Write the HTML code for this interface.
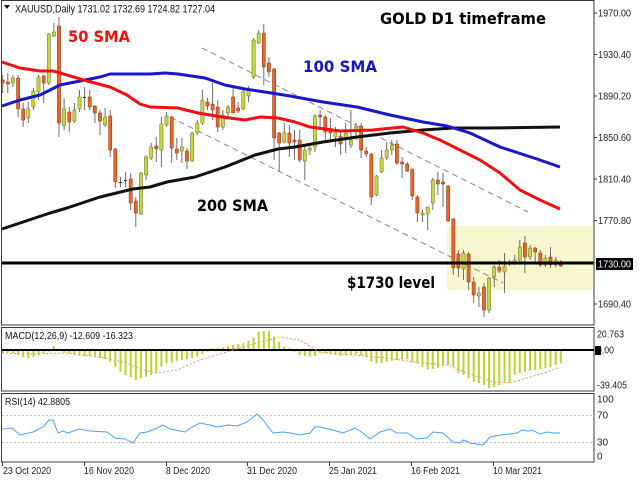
<!DOCTYPE html>
<html><head><meta charset="utf-8"><style>
html,body{margin:0;padding:0;background:#fff}
svg{display:block}
text{font-family:"Liberation Sans",Arial,sans-serif}
.big{font-family:"DejaVu Sans","Liberation Sans",sans-serif;font-weight:bold}
</style></head><body>
<svg width="640" height="480" viewBox="0 0 640 480" xmlns="http://www.w3.org/2000/svg">
<rect width="640" height="480" fill="#fff"/>
<!-- yellow zone -->
<rect x="447" y="226" width="146" height="64" fill="#f8f6cf"/>
<!-- dashed channel -->
<line x1="202" y1="48" x2="528" y2="212" stroke="#8a8a8a" stroke-width="1" stroke-dasharray="6,4"/>
<line x1="170" y1="117" x2="503" y2="283" stroke="#8a8a8a" stroke-width="1" stroke-dasharray="6,4"/>
<!-- wicks -->
<path fill="none" stroke="#6e6e6e" stroke-width="1" d="M2.7 75V93 M7.8 73V93 M12.9 75V87 M18.1 75V117 M23.2 103V127 M28.3 102V123 M33.4 88V110 M38.5 75V100 M43.7 75V103 M48.8 33V85 M53.9 23V37 M59 17V137 M64.1 98V130 M69.3 107V132 M74.4 103V123 M79.5 90V112 M84.6 87V110 M89.7 90V110 M94.9 105V123 M100 110V135 M105.1 108V127 M110.2 110V157 M115.3 148V188 M120.5 177V187 M125.6 172V187 M130.7 173V210 M135.8 197V227 M140.9 172V215 M146.1 155V180 M151.2 143V160 M156.3 137V162 M161.4 117V167 M166.5 112V127 M171.7 116V163 M176.8 138V160 M181.9 138V163 M187 148V169 M192.1 132V162 M197.3 120V135 M202.4 90V125 M207.5 98V110 M212.6 83V120 M217.7 100V132 M222.9 110V130 M228 105V117 M233.1 88V113 M238.2 102V113 M243.3 90V110 M248.5 86V102 M253.6 38V79 M258.7 30V44 M263.8 24V85 M268.9 57V77 M274.1 68V160 M279.2 132V172 M284.3 123V143 M289.4 125V157 M294.5 130V160 M299.7 130V162 M304.8 145V180 M309.9 145V155 M315 114V152 M320.1 110V127 M325.3 115V142 M330.4 118V140 M335.5 127V147 M340.6 130V155 M345.7 123V153 M350.9 110V148 M356 123V140 M361.1 123V158 M366.2 147V157 M371.3 153V205 M376.5 175V196 M381.6 150V173 M386.7 142V160 M391.8 140V155 M396.9 140V165 M402.1 157V178 M407.2 162V172 M412.3 169V200 M417.4 195V222 M422.5 210V222 M427.7 207V230 M432.8 178V210 M437.9 172V195 M443 173V207 M448.1 185V222 M453.3 218V275 M458.4 250V277 M463.5 250V280 M468.6 252V290 M473.7 277V303 M478.9 287V307 M484 283V317 M489.1 277V313 M494.2 265V287 M499.3 260V273 M504.5 253V293 M509.6 260V266 M514.7 255V265 M519.8 240V263 M524.9 236V273 M530.1 245V260 M535.2 247V263 M540.3 250V267 M545.4 255V267 M550.5 247V268 M555.7 257V267 M560.8 260V267"/>
<!-- bull bodies -->
<path fill="#c6d83a" stroke="#6a6a2a" stroke-width="0.5" d="M11.3 78h3.2v5h-3.2z M26.7 109h3.2v9h-3.2z M31.8 91h3.2v16h-3.2z M36.9 77h3.2v15h-3.2z M47.2 34h3.2v49h-3.2z M52.3 32h3.2v4h-3.2z M62.5 109h3.2v17h-3.2z M72.8 110h3.2v11h-3.2z M77.9 97h3.2v12h-3.2z M103.5 117h3.2v8h-3.2z M139.3 173h3.2v41h-3.2z M144.5 157h3.2v18h-3.2z M149.6 147h3.2v11h-3.2z M159.8 124h3.2v26h-3.2z M164.9 116h3.2v9h-3.2z M180.3 147h3.2v4h-3.2z M190.5 133h3.2v28h-3.2z M195.7 123h3.2v10h-3.2z M200.8 100h3.2v23h-3.2z M221.3 115h3.2v12h-3.2z M226.4 107h3.2v6h-3.2z M241.7 92h3.2v17h-3.2z M246.9 88h3.2v8h-3.2z M252 40h3.2v37h-3.2z M257.1 33h3.2v10h-3.2z M282.7 133h3.2v9h-3.2z M303.2 150h3.2v11h-3.2z M308.3 148h3.2v2h-3.2z M313.4 116h3.2v31h-3.2z M333.9 132h3.2v5h-3.2z M344.1 133h3.2v6h-3.2z M349.3 140h3.2v5h-3.2z M354.4 127h3.2v5h-3.2z M374.9 176h3.2v19h-3.2z M380 158h3.2v14h-3.2z M385.1 150h3.2v8h-3.2z M390.2 145h3.2v5h-3.2z M420.9 213h3.2v2h-3.2z M426.1 207h3.2v7h-3.2z M431.2 180h3.2v23h-3.2z M461.9 253h3.2v16h-3.2z M477.3 293h3.2v3h-3.2z M487.5 278h3.2v32h-3.2z M492.6 267h3.2v10h-3.2z M502.9 266h3.2v6h-3.2z M513.1 260h3.2v3h-3.2z M518.2 247h3.2v13h-3.2z M528.5 248h3.2v9h-3.2z M543.8 258h3.2v7h-3.2z M554.1 260h3.2v5h-3.2z"/>
<!-- bear bodies -->
<path fill="#ec6428" stroke="#7a3a1a" stroke-width="0.5" d="M1.1 80h3.2v3h-3.2z M6.2 82h3.2v2h-3.2z M16.5 78h3.2v31h-3.2z M21.6 109h3.2v11h-3.2z M42.1 76h3.2v7h-3.2z M57.4 26h3.2v97h-3.2z M67.7 112h3.2v10h-3.2z M88.1 97h3.2v10h-3.2z M93.3 106h3.2v7h-3.2z M98.4 113h3.2v8h-3.2z M108.6 116h3.2v34h-3.2z M113.7 149h3.2v33h-3.2z M129.1 179h3.2v24h-3.2z M134.2 201h3.2v12h-3.2z M154.7 146h3.2v3h-3.2z M170.1 117h3.2v31h-3.2z M175.2 149h3.2v4h-3.2z M185.4 151h3.2v10h-3.2z M205.9 102h3.2v4h-3.2z M211 104h3.2v6h-3.2z M216.1 107h3.2v20h-3.2z M231.5 97h3.2v16h-3.2z M236.6 108h3.2v3h-3.2z M262.2 33h3.2v34h-3.2z M267.3 63h3.2v9h-3.2z M272.5 69h3.2v69h-3.2z M277.6 133h3.2v10h-3.2z M287.8 133h3.2v10h-3.2z M292.9 140h3.2v2h-3.2z M298.1 140h3.2v20h-3.2z M318.5 115h3.2v2h-3.2z M323.7 117h3.2v15h-3.2z M328.8 130h3.2v3h-3.2z M339 136h3.2v8h-3.2z M359.5 126h3.2v24h-3.2z M364.6 151h3.2v3h-3.2z M369.7 154h3.2v43h-3.2z M395.3 144h3.2v19h-3.2z M400.5 162h3.2v2h-3.2z M405.6 164h3.2v7h-3.2z M410.7 169h3.2v27h-3.2z M415.8 197h3.2v16h-3.2z M436.3 180h3.2v4h-3.2z M441.4 182h3.2v2h-3.2z M446.5 186h3.2v35h-3.2z M451.7 219h3.2v49h-3.2z M456.8 254h3.2v14h-3.2z M467 254h3.2v28h-3.2z M472.1 282h3.2v13h-3.2z M482.4 287h3.2v23h-3.2z M497.7 267h3.2v4h-3.2z M523.3 243h3.2v14h-3.2z M533.6 248h3.2v4h-3.2z M538.7 253h3.2v12h-3.2z M548.9 257h3.2v8h-3.2z M559.2 263h3.2v3h-3.2z"/>
<!-- doji -->
<path fill="none" stroke="#333" stroke-width="1" d="M83 97.5h3.2 M118.9 182.5h3.2 M124 180.5h3.2 M508 263.5h3.2"/>
<!-- 200 SMA -->
<polyline fill="none" stroke="#111" stroke-width="3" stroke-linejoin="round" points="2,229 50,213 67,208 100,197 133,189 150,187 167,182 195,177 225,167 255,155 278,149 295,147 323,142 357,137 390,133 423,130 453,128 487,128 560,127"/>
<!-- 100 SMA -->
<polyline fill="none" stroke="#1818c8" stroke-width="3" stroke-linejoin="round" points="2,106 20,100 40,95 60,85 80,81 100,77 110,74 150,74 165,73 178,74 205,78 225,85 245,89 265,92 290,96 323,102 357,107 390,115 423,122 447,126 470,133 500,147 537,159 560,167"/>
<!-- 50 SMA -->
<polyline fill="none" stroke="#f01010" stroke-width="3" stroke-linejoin="round" points="2,62 20,68 40,71 53,71 67,75 87,81 110,87 127,95 140,104 150,107 178,108 198,113 222,117 245,120 260,117 278,118 295,122 310,127 340,131 373,130 392,128 403,127 423,133 440,140 460,150 480,160 500,173 520,190 540,200 560,209"/>
<!-- 1730 line -->
<line x1="1" y1="263" x2="594" y2="263" stroke="#000" stroke-width="3"/>
<!-- frames -->
<g fill="none" stroke="#3a3a3a" stroke-width="1">
<rect x="1.5" y="0.5" width="592.5" height="324.5"/>
<rect x="1.5" y="327.5" width="592.5" height="63.5"/>
<rect x="1.5" y="393.5" width="592.5" height="68.5"/>
</g>
<!-- header -->
<polygon points="4,5 10,5 7,9" fill="#111"/>
<text x="15" y="12.5" font-size="11" fill="#111" textLength="200" lengthAdjust="spacingAndGlyphs">XAUUSD,Daily  1731.02 1732.69 1724.82 1727.04</text>
<!-- big labels -->
<text class="big" x="68" y="42" font-size="16" fill="#f01010" textLength="62" lengthAdjust="spacingAndGlyphs">50 SMA</text>
<text class="big" x="303" y="72" font-size="16" fill="#1818c0" textLength="74" lengthAdjust="spacingAndGlyphs">100 SMA</text>
<text class="big" x="380" y="24" font-size="16" fill="#000" textLength="166" lengthAdjust="spacingAndGlyphs">GOLD D1 timeframe</text>
<text class="big" x="197" y="211" font-size="16" fill="#000" textLength="71" lengthAdjust="spacingAndGlyphs">200 SMA</text>
<text class="big" x="347" y="288" font-size="16" fill="#000" textLength="88" lengthAdjust="spacingAndGlyphs">$1730 level</text>
<!-- price axis -->
<path stroke="#3a3a3a" stroke-width="1" d="M594 13h3 M594 54.5h3 M594 96h3 M594 137.5h3 M594 179h3 M594 220.5h3 M594 304h3"/>
<g font-size="10" fill="#222">
<text x="598" y="16.5" textLength="33" lengthAdjust="spacingAndGlyphs">1970.00</text>
<text x="598" y="58" textLength="33" lengthAdjust="spacingAndGlyphs">1930.40</text>
<text x="598" y="99.5" textLength="33" lengthAdjust="spacingAndGlyphs">1890.20</text>
<text x="598" y="141" textLength="33" lengthAdjust="spacingAndGlyphs">1850.60</text>
<text x="598" y="182.5" textLength="33" lengthAdjust="spacingAndGlyphs">1810.40</text>
<text x="598" y="224" textLength="33" lengthAdjust="spacingAndGlyphs">1770.80</text>
<text x="598" y="307.5" textLength="33" lengthAdjust="spacingAndGlyphs">1690.40</text>
</g>
<rect x="596" y="258" width="37" height="12" fill="#000"/>
<text x="598" y="267.5" font-size="10" fill="#fff" textLength="33" lengthAdjust="spacingAndGlyphs">1730.00</text>
<!-- MACD -->
<line x1="2" y1="350" x2="594" y2="350" stroke="#000" stroke-width="2"/>
<path fill="none" stroke="#bad232" stroke-width="2" d="M2.7 351V353.3 M7.8 351V352.7 M12.9 351V353.3 M18.1 351V355 M23.2 351V357.3 M28.3 351V358.3 M33.4 351V356.7 M38.5 351V355 M43.7 351V353.3 M48.8 351V351.7 M53.9 349V346 M64.1 351V352.7 M69.3 351V353.3 M74.4 351V355 M79.5 351V356 M84.6 351V356 M89.7 351V356 M94.9 351V356.7 M100 351V358.3 M105.1 351V359.3 M110.2 351V361.7 M115.3 351V366.7 M120.5 351V371.7 M125.6 351V375 M130.7 351V377.3 M135.8 351V380 M140.9 351V378.3 M146.1 351V376.7 M151.2 351V375 M156.3 351V373.3 M161.4 351V366.7 M166.5 351V363.3 M171.7 351V362.7 M176.8 351V360.7 M181.9 351V360 M187 351V359.3 M192.1 351V358.3 M197.3 351V356.7 M202.4 351V354 M207.5 351V351.7 M212.6 349V348.3 M217.7 349V348 M222.9 349V347.3 M228 349V346 M233.1 349V345 M238.2 349V344 M243.3 349V343.3 M248.5 349V340.7 M253.6 349V337.3 M258.7 349V331.7 M263.8 349V331 M268.9 349V331 M274.1 349V336.7 M279.2 349V341.7 M284.3 349V346.7 M289.4 349V348.3 M294.5 351V351.7 M299.7 351V355 M304.8 351V356 M309.9 351V356.7 M315 351V356 M320.1 351V353.3 M325.3 351V353.3 M330.4 351V354.3 M335.5 351V355 M340.6 351V355.7 M345.7 351V355.3 M350.9 351V355 M356 351V354.3 M361.1 351V355.7 M366.2 351V356.7 M371.3 351V361.7 M376.5 351V363.3 M381.6 351V362.7 M386.7 351V361.7 M391.8 351V360.7 M396.9 351V360 M402.1 351V359.3 M407.2 351V359.3 M412.3 351V361.7 M417.4 351V363.3 M422.5 351V366.7 M427.7 351V369.3 M432.8 351V369 M437.9 351V367.7 M443 351V366 M448.1 351V365 M453.3 351V366.7 M458.4 351V372.7 M463.5 351V375 M468.6 351V378.3 M473.7 351V381.7 M478.9 351V383.3 M484 351V385 M489.1 351V388.3 M494.2 351V386.7 M499.3 351V385 M504.5 351V383.3 M509.6 351V382.7 M514.7 351V375 M519.8 351V373.3 M524.9 351V371.7 M530.1 351V370.7 M535.2 351V370 M540.3 351V369.3 M545.4 351V368.3 M550.5 351V366.7 M555.7 351V365 M560.8 351V363.3"/>
<polyline fill="none" stroke="#f4946a" stroke-width="1" stroke-dasharray="2,2" points="2,353 33,354 67,353 100,357 127,363 140,369 157,373 177,370 200,360 233,350 260,342 280,337 300,340 313,348 320,352 353,355 387,358 413,362 447,365 467,373 493,382 510,383 527,378 547,372 560,367"/>
<text x="5" y="339" font-size="10" fill="#111" textLength="128" lengthAdjust="spacingAndGlyphs">MACD(12,26,9) -12.609 -16.323</text>
<g font-size="10" fill="#222">
<text x="597" y="337.5" textLength="27" lengthAdjust="spacingAndGlyphs">20.763</text>
<text x="597" y="353.5" textLength="17" lengthAdjust="spacingAndGlyphs">0.00</text>
<text x="597" y="388.5" textLength="30" lengthAdjust="spacingAndGlyphs">-39.405</text>
</g>
<rect x="595" y="346" width="6" height="9" fill="#000"/>
<!-- RSI -->
<line x1="2" y1="415.5" x2="593" y2="415.5" stroke="#c4c4c4" stroke-width="1" stroke-dasharray="2,2"/>
<line x1="2" y1="442.5" x2="593" y2="442.5" stroke="#c4c4c4" stroke-width="1" stroke-dasharray="2,2"/>
<polyline fill="none" stroke="#4aa2f4" stroke-width="1" points="2,429 12,428 20,435 33,432 43,427 49,420 53,420 58,433 63,431 68,433 79,429 90,431 107,432 115,438 125,439 133,443 140,433 147,432 155,429 163,425 170,429 185,432 192,427 200,423 210,425 218,427 228,425 237,426 247,422 257,414 263,420 273,433 283,432 290,433 300,435 310,433 315,427 320,427 333,430 343,433 355,428 363,433 370,439 380,432 390,429 397,433 407,433 417,439 427,438 433,432 443,433 453,442 460,443 463,440 470,443 483,445 490,437 500,435 510,434 517,433 522,430 528,431 532,430 540,434 547,432 553,433 560,433"/>
<text x="5" y="405" font-size="10" fill="#111" textLength="65" lengthAdjust="spacingAndGlyphs">RSI(14) 42.8805</text>
<g font-size="10" fill="#222">
<text x="597" y="402.5">100</text>
<text x="597" y="418.5">70</text>
<text x="597" y="445.5">30</text>
<text x="597" y="459.5">0</text>
</g>
<!-- date axis -->
<path stroke="#3a3a3a" stroke-width="1" d="M2.5 462v4 M84.5 462v4 M166.5 462v4 M247.5 462v4 M329.5 462v4 M411.5 462v4 M493.5 462v4"/>
<g font-size="10" fill="#222">
<text x="3" y="474" textLength="48" lengthAdjust="spacingAndGlyphs">23 Oct 2020</text>
<text x="84" y="474" textLength="50" lengthAdjust="spacingAndGlyphs">16 Nov 2020</text>
<text x="166" y="474" textLength="44" lengthAdjust="spacingAndGlyphs">8 Dec 2020</text>
<text x="247" y="474" textLength="50" lengthAdjust="spacingAndGlyphs">31 Dec 2020</text>
<text x="329" y="474" textLength="48" lengthAdjust="spacingAndGlyphs">25 Jan 2021</text>
<text x="411" y="474" textLength="49" lengthAdjust="spacingAndGlyphs">16 Feb 2021</text>
<text x="493" y="474" textLength="49" lengthAdjust="spacingAndGlyphs">10 Mar 2021</text>
</g>
</svg>
</body></html>
